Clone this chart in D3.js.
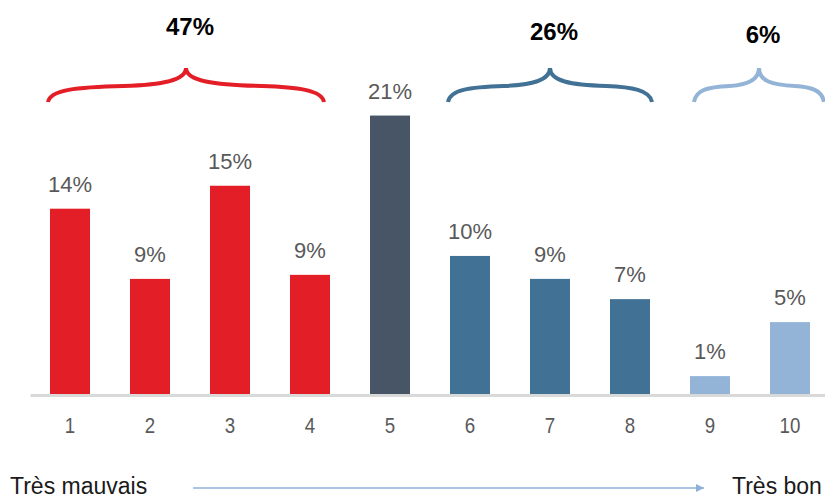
<!DOCTYPE html>
<html>
<head>
<meta charset="utf-8">
<script src="https://cdn.jsdelivr.net/npm/d3@7"></script>
<style>
  body { margin: 0; background: #fff; }
  svg { display: block; font-family: "Liberation Sans", Arial, sans-serif; }
</style>
</head>
<body>
<svg width="825" height="498"></svg>
<script>
// scores 1..10 and share of answers (%)
var categories = ['1', '2', '3', '4', '5', '6', '7', '8', '9', '10'];
var values = [13.8, 8.6, 15.5, 8.9, 20.7, 10.3, 8.6, 7.1, 1.4, 5.4];
var valueLabels = ['14%', '9%', '15%', '9%', '21%', '10%', '9%', '7%', '1%', '5%'];
var groupOf = ['bad', 'bad', 'bad', 'bad', 'neutral', 'mid', 'mid', 'mid', 'good', 'good'];

// grouped totals shown above the braces
var groupNames = ['bad', 'mid', 'good'];
var groupFirst = ['1', '6', '9'];
var groupLast = ['4', '8', '10'];
var groupTotals = ['47%', '26%', '6%'];

var colors = {
    bad: '#e31e26',
    neutral: '#475566',
    mid: '#417194',
    good: '#94b4d7'
};

var svg = d3.select('svg');
var baseY = 395;

var x = d3.scaleBand()
    .domain(categories)
    .range([30, 830])
    .paddingInner(0.5)
    .paddingOuter(0.25);

var y = d3.scaleLinear()
    .domain([0, 22])
    .range([baseY, baseY - 22 * 13.5]);

// bars
svg.selectAll('rect.bar')
    .data(values)
    .enter()
    .append('rect')
        .attr('class', 'bar')
        .attr('x', function(d, i) { return x(categories[i]); })
        .attr('y', function(d) { return y(d); })
        .attr('width', x.bandwidth())
        .attr('height', function(d) { return y(0) - y(d); })
        .attr('fill', function(d, i) { return colors[groupOf[i]]; });

// value labels
svg.selectAll('text.val')
    .data(values)
    .enter()
    .append('text')
        .attr('class', 'val')
        .attr('x', function(d, i) { return x(categories[i]) + x.bandwidth() / 2; })
        .attr('y', function(d) { return y(d) - 17; })
        .attr('text-anchor', 'middle')
        .attr('font-size', 22)
        .attr('fill', '#595959')
        .text(function(d, i) { return valueLabels[i]; });

// x axis
var axis = svg.append('g')
    .attr('transform', 'translate(0,' + baseY + ')')
    .call(d3.axisBottom(x).tickSize(0).tickPadding(22));
axis.select('.domain')
    .attr('stroke', '#d9d9d9')
    .attr('stroke-width', 3);
axis.selectAll('.tick text')
    .attr('font-family', '"Liberation Sans", Arial, sans-serif')
    .attr('font-size', 22)
    .attr('transform', 'scale(0.85,1)')
    .attr('fill', '#595959');

// braces over the groups
function brace(x0, x1) {
    var h = (x1 - x0) / 2, mid = x0 + h;
    var yb = 102, ym = 87, yt = 68;
    return 'M' + x0 + ',' + yb +
        'C' + (x0 + 2) + ',' + (ym + 3) + ' ' + (x0 + h * 0.2) + ',' + ym + ' ' + (x0 + h * 0.55) + ',' + (ym - 1) +
        'C' + (mid - h * 0.2) + ',' + (ym - 2) + ' ' + mid + ',' + (ym - 6) + ' ' + mid + ',' + yt +
        'C' + mid + ',' + (ym - 6) + ' ' + (mid + h * 0.2) + ',' + (ym - 2) + ' ' + (x1 - h * 0.45) + ',' + (ym - 1) +
        'C' + (x1 - h * 0.2) + ',' + ym + ' ' + (x1 - 2) + ',' + (ym + 3) + ' ' + x1 + ',' + yb;
}

groupNames.forEach(function(g, i) {
    var x0 = x(groupFirst[i]) - 2;
    var x1 = x(groupLast[i]) + x.bandwidth() + 2;
    if (i == 2) { x0 += 6; x1 += 12; }
    if (i == 0) { x1 -= 8; }
    svg.append('path')
        .attr('d', brace(x0, x1))
        .attr('fill', 'none')
        .attr('stroke', colors[g])
        .attr('stroke-width', 4);
    svg.append('text')
        .attr('x', (x0 + x1) / 2 + 4)
        .attr('y', i == 0 ? 35 : (i == 1 ? 40 : 43))
        .attr('text-anchor', 'middle')
        .attr('font-size', 24)
        .attr('font-weight', 'bold')
        .attr('fill', '#000')
        .text(groupTotals[i]);
});

// scale direction at the bottom
svg.append('defs').append('marker')
    .attr('id', 'arr')
    .attr('viewBox', '0 0 10 10')
    .attr('refX', 10).attr('refY', 5)
    .attr('markerWidth', 8).attr('markerHeight', 8)
    .attr('markerUnits', 'userSpaceOnUse')
    .attr('orient', 'auto')
    .append('path')
        .attr('d', 'M0,0L10,5L0,10Z')
        .attr('fill', '#8eb0d8');

svg.append('line')
    .attr('x1', 193).attr('y1', 488)
    .attr('x2', 704).attr('y2', 488)
    .attr('stroke', '#8eb0d8')
    .attr('stroke-width', 1.3)
    .attr('marker-end', 'url(#arr)');

svg.append('text')
    .attr('x', 10).attr('y', 494)
    .attr('font-size', 23)
    .attr('fill', '#1a1a1a')
    .text('Très mauvais');

svg.append('text')
    .attr('x', 732).attr('y', 494)
    .attr('font-size', 23)
    .attr('fill', '#1a1a1a')
    .text('Très bon');
</script>
</body>
</html>
